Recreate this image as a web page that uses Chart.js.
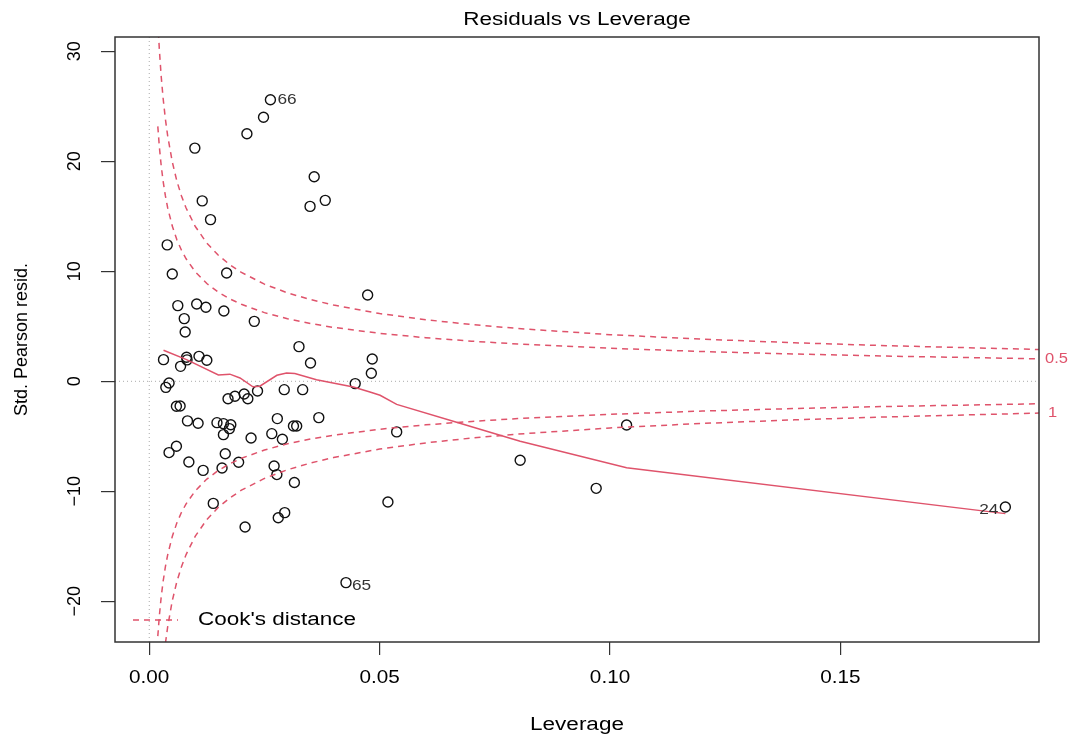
<!DOCTYPE html>
<html>
<head>
<meta charset="utf-8">
<title>Residuals vs Leverage</title>
<script src="https://cdn.jsdelivr.net/npm/chart.js@4.4.1/dist/chart.umd.min.js"></script>
<style>
  body { margin: 0; background: #fff; }
  #wrap { width: 1068px; height: 736px; position: relative; }
</style>
</head>
<body>
<div id="wrap"><canvas id="chart"></canvas></div>
<script>
// observations (leverage, standardized Pearson residual)
const leverage = [
  0.0263, 0.0248, 0.0212, 0.0099, 0.0358, 0.0382, 0.0349, 0.0115, 0.0133, 0.0039,
  0.0050, 0.0168, 0.0474, 0.0062, 0.0103, 0.0123, 0.0162, 0.0228, 0.0076, 0.0078,
  0.0325, 0.0350, 0.0484, 0.0482, 0.0447, 0.0031, 0.0081, 0.0082, 0.0108, 0.0125,
  0.0068, 0.0043, 0.0036, 0.0235, 0.0293, 0.0333, 0.0206, 0.0214, 0.0171, 0.0186,
  0.0059, 0.0067, 0.0083, 0.0106, 0.0147, 0.0161, 0.0177, 0.0174, 0.0278, 0.0313,
  0.0320, 0.0368, 0.0161, 0.0221, 0.0266, 0.0289, 0.0537, 0.0043, 0.0059, 0.0086,
  0.0117, 0.0165, 0.0158, 0.0194, 0.0271, 0.0277, 0.0315, 0.0139, 0.0208, 0.0280,
  0.0294, 0.0518, 0.0427, 0.0805, 0.0970, 0.1036, 0.1858
];
const stdResid = [
  25.6, 24.0, 22.5, 21.2, 18.6, 16.45, 15.9, 16.4, 14.7, 12.4,
  9.75, 9.85, 7.85, 6.88, 7.03, 6.73, 6.39, 5.45, 5.7, 4.48,
  3.15, 1.66, 2.03, 0.73, -0.21, 1.97, 2.18, 1.95, 2.27, 1.91,
  1.36, -0.15, -0.55, -0.88, -0.76, -0.76, -1.15, -1.58, -1.58, -1.36,
  -2.27, -2.25, -3.6, -3.82, -3.76, -3.85, -3.95, -4.3, -3.39, -4.06,
  -4.06, -3.3, -4.85, -5.15, -4.76, -5.27, -4.6, -6.48, -5.9, -7.33,
  -8.1, -6.58, -7.88, -7.36, -7.7, -8.48, -9.2, -11.1, -13.25, -12.4,
  -11.94, -10.97, -18.3, -7.18, -9.73, -3.97, -11.43
];
// labelled observations: index into the arrays above, and their id
const labelIndex = [0, 72, 76];
const labelText = ['66', '65', '24'];

// red smoother
const smoothLev = [0.0031, 0.0081, 0.0150, 0.0175, 0.0197, 0.0225, 0.0240, 0.0277, 0.0298, 0.0316,
  0.0363, 0.0443, 0.0479, 0.0501, 0.0537, 0.0667, 0.0805, 0.1036, 0.1858];
const smoothRes = [2.82, 1.97, 0.58, 0.65, 0.3, -0.5, -0.45, 0.55, 0.75, 0.7,
  0.15, -0.52, -0.97, -1.27, -2.1, -3.73, -5.45, -7.85, -12.03];

// Cook's distance contours
const cookLev = [0.00186, 0.0022, 0.0026, 0.003, 0.0035, 0.004, 0.005, 0.006, 0.007, 0.008,
  0.010, 0.0125, 0.015, 0.0175, 0.02, 0.025, 0.03, 0.035, 0.04, 0.05,
  0.06, 0.07, 0.08, 0.10, 0.12, 0.14, 0.16, 0.1931];
const cookHalfUp = [23.17, 21.30, 19.59, 18.23, 16.87, 15.78, 14.11, 12.87, 11.91, 11.14,
  9.95, 8.89, 8.10, 7.49, 7.0, 6.245, 5.686, 5.25, 4.90, 4.36,
  3.96, 3.645, 3.39, 3.0, 2.708, 2.478, 2.291, 2.044];
const cookHalfDown = [-23.17, -21.30, -19.59, -18.23, -16.87, -15.78, -14.11, -12.87, -11.91, -11.14,
  -9.95, -8.89, -8.10, -7.49, -7.0, -6.245, -5.686, -5.25, -4.90, -4.36,
  -3.96, -3.645, -3.39, -3.0, -2.708, -2.478, -2.291, -2.044];
const cookOneUp = [32.76, 30.12, 27.70, 25.78, 23.86, 22.32, 19.95, 18.20, 16.85, 15.75,
  14.07, 12.57, 11.46, 10.60, 9.90, 8.83, 8.04, 7.43, 6.93, 6.16,
  5.60, 5.155, 4.80, 4.24, 3.83, 3.505, 3.24, 2.891];
const cookOneDown = [-32.76, -30.12, -27.70, -25.78, -23.86, -22.32, -19.95, -18.20, -16.85, -15.75,
  -14.07, -12.57, -11.46, -10.60, -9.90, -8.83, -8.04, -7.43, -6.93, -6.16,
  -5.60, -5.155, -4.80, -4.24, -3.83, -3.505, -3.24, -2.891];

const xTicks = [0, 0.05, 0.10, 0.15];
const xTickLabels = ['0.00', '0.05', '0.10', '0.15'];
const yTicks = [-20, -10, 0, 10, 20, 30];

const red = '#DF536B';
const font = "'Liberation Sans', Arial, sans-serif";

function xy(xs, ys) {
  return xs.map((x, i) => ({ x: x, y: ys[i] }));
}

function cookLine(ys) {
  return {
    data: xy(cookLev, ys),
    showLine: true,
    borderColor: red,
    borderWidth: 1.5,
    borderDash: [6, 5],
    pointRadius: 0,
    tension: 0
  };
}

// the picture is a little wider than tall, so text is stretched sideways
function wideText(ctx, text, x, y, align, sx) {
  ctx.save();
  ctx.translate(x, y);
  ctx.scale(sx, 1);
  ctx.textAlign = align;
  ctx.fillText(text, 0, 0);
  ctx.restore();
}

// R style extras: box, reference lines, labels, ids, legend, title
const extras = {
  id: 'extras',
  beforeDatasetsDraw(chart) {
    const { ctx, chartArea: a, scales: { x, y } } = chart;
    ctx.save();
    ctx.strokeStyle = '#aaa';
    ctx.lineWidth = 1;
    ctx.setLineDash([1, 3]);
    const x0 = x.getPixelForValue(0);
    const y0 = y.getPixelForValue(0);
    ctx.beginPath();
    ctx.moveTo(x0, a.top); ctx.lineTo(x0, a.bottom);
    ctx.moveTo(a.left, y0); ctx.lineTo(a.right, y0);
    ctx.stroke();
    ctx.restore();
  },
  afterDraw(chart) {
    const { ctx, chartArea: a, scales: { x, y } } = chart;
    ctx.save();
    // box
    ctx.strokeStyle = '#333';
    ctx.lineWidth = 1.5;
    ctx.strokeRect(a.left, a.top, a.right - a.left, a.bottom - a.top);

    // y tick labels, parallel to the axis
    ctx.fillStyle = '#000';
    ctx.font = '18px ' + font;
    ctx.textAlign = 'center';
    ctx.textBaseline = 'middle';
    yTicks.forEach(v => {
      ctx.save();
      ctx.translate(75, y.getPixelForValue(v));
      ctx.rotate(-Math.PI / 2);
      ctx.fillText(String(v).replace('-', '\u2212'), 0, 0);
      ctx.restore();
    });

    // x tick labels and axis title
    xTicks.forEach((v, i) => {
      wideText(ctx, xTickLabels[i], x.getPixelForValue(v), 678, 'center', 1.15);
    });
    wideText(ctx, 'Leverage', (a.left + a.right) / 2, 725, 'center', 1.25);

    // title
    wideText(ctx, 'Residuals vs Leverage', (a.left + a.right) / 2, 20, 'center', 1.25);

    // observation ids
    ctx.fillStyle = '#333';
    ctx.font = '15px ' + font;
    labelIndex.forEach((idx, k) => {
      const px = x.getPixelForValue(leverage[idx]);
      const py = y.getPixelForValue(stdResid[idx]);
      if (k === 2) {
        wideText(ctx, labelText[k], px - 7, py + 3, 'right', 1.15);
      } else if (k === 1) {
        wideText(ctx, labelText[k], px + 6, py + 3, 'left', 1.15);
      } else {
        wideText(ctx, labelText[k], px + 7, py, 'left', 1.15);
      }
    });

    // contour level labels
    ctx.fillStyle = red;
    ctx.font = '15px ' + font;
    wideText(ctx, '0.5', a.right + 6, y.getPixelForValue(cookHalfUp[cookHalfUp.length - 1]), 'left', 1.1);
    wideText(ctx, '1', a.right + 9, y.getPixelForValue(cookOneDown[cookOneDown.length - 1]), 'left', 1.1);

    // legend
    ctx.strokeStyle = red;
    ctx.lineWidth = 1.3;
    ctx.setLineDash([6, 5]);
    ctx.beginPath();
    ctx.moveTo(133, 620); ctx.lineTo(178, 620);
    ctx.stroke();
    ctx.setLineDash([]);
    ctx.fillStyle = '#000';
    ctx.font = '18px ' + font;
    wideText(ctx, "Cook's distance", 198, 620, 'left', 1.25);
    ctx.restore();
  }
};

new Chart(document.getElementById('chart'), {
  type: 'scatter',
  data: {
    datasets: [
      cookLine(cookHalfUp),
      cookLine(cookHalfDown),
      cookLine(cookOneUp),
      cookLine(cookOneDown),
      {
        data: xy(smoothLev, smoothRes),
        showLine: true,
        borderColor: red,
        borderWidth: 1.5,
        pointRadius: 0,
        tension: 0
      },
      {
        data: xy(leverage, stdResid),
        pointRadius: 5,
        pointBorderWidth: 1.4,
        pointBorderColor: '#111',
        pointBackgroundColor: 'rgba(0,0,0,0)'
      }
    ]
  },
  options: {
    responsive: true,
    maintainAspectRatio: false,
    animation: false,
    layout: { padding: { left: 0, top: 37, right: 29, bottom: 0 } },
    plugins: { legend: { display: false }, tooltip: { enabled: false } },
    scales: {
      x: {
        type: 'linear',
        min: -0.00743,
        max: 0.1931,
        afterBuildTicks(scale) { scale.ticks = xTicks.map(v => ({ value: v })); },
        afterFit(scale) { scale.height = 94; },
        ticks: { color: 'rgba(0,0,0,0)', font: { size: 18, family: font }, maxRotation: 0 },
        grid: { drawOnChartArea: false, drawTicks: true, tickLength: 13, color: '#333', lineWidth: 1.2 },
        border: { display: false }
      },
      y: {
        type: 'linear',
        min: -23.7,
        max: 31.3,
        afterBuildTicks(scale) { scale.ticks = yTicks.map(v => ({ value: v })); },
        afterFit(scale) { scale.width = 115; },
        ticks: { color: 'rgba(0,0,0,0)', font: { size: 18, family: font } },
        grid: { drawOnChartArea: false, drawTicks: true, tickLength: 14, color: '#333', lineWidth: 1.2 },
        border: { display: false },
        title: { display: true, text: 'Std. Pearson resid.', color: '#000', font: { size: 18, family: font }, padding: { top: 11, bottom: 0 } }
      }
    }
  },
  plugins: [extras]
});
</script>
</body>
</html>
